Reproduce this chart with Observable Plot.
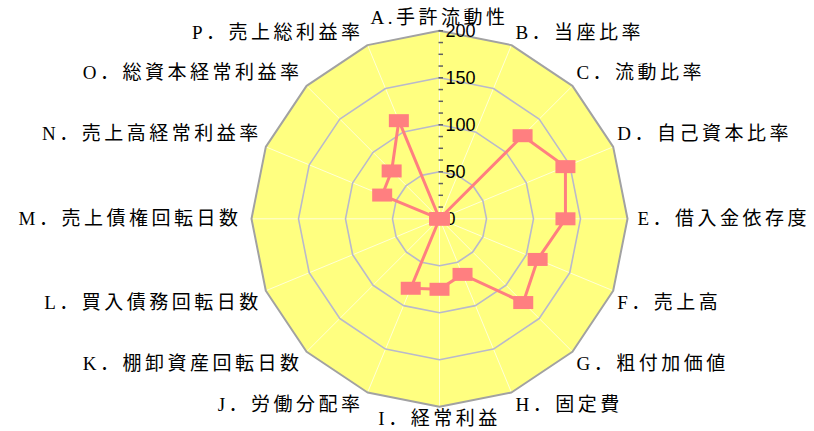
<!DOCTYPE html>
<html>
<head>
<meta charset="utf-8">
<script src="https://cdn.jsdelivr.net/npm/d3@7"></script>
<script src="https://cdn.jsdelivr.net/npm/@observablehq/plot@0.6"></script>
<style>
  html, body { margin: 0; padding: 0; background: #ffffff; }
  #chart { width: 814px; height: 431px; }
</style>
</head>
<body>
<div id="chart"></div>
<script>
// ---- data ----
const categories = [
  "A.手許流動性", "B．当座比率", "C．流動比率", "D．自己資本比率",
  "E．借入金依存度", "F．売上高", "G．粗付加価値", "H．固定費",
  "I．経常利益", "J．労働分配率", "K．棚卸資産回転日数", "L．買入債務回転日数",
  "M．売上債権回転日数", "N．売上高経常利益率", "O．総資本経常利益率", "P．売上総利益率"
];
const values = [0, 0, 125, 145, 134, 113, 126, 64, 75, 80, 0, 0, 0, 66, 72, 113];
const ringValues = [50, 100, 150, 200];
const tickLabels = [0, 50, 100, 150, 200];
const minorStep = 12.5;
const maxValue = 200;

// ---- geometry helpers ----
const W = 814, H = 431;
const cx = 439, cy = 218.3, k = 0.94; // px per unit
const n = categories.length;
const ang = i => (i * 2 * Math.PI) / n;
const px = u => u / k; // pixels -> value units

const outer = categories.map((c, i) => ({x: maxValue * Math.sin(ang(i)), y: maxValue * Math.cos(ang(i))}));
const rings = ringValues.filter(v => v < maxValue).flatMap(v =>
  categories.map((c, i) => ({ring: v, x: v * Math.sin(ang(i)), y: v * Math.cos(ang(i))})));
const spokes = categories.map((c, i) => ({x2: maxValue * Math.sin(ang(i)), y2: maxValue * Math.cos(ang(i))}));
const series = values.map((v, i) => ({cat: categories[i], v, x: v * Math.sin(ang(i)), y: v * Math.cos(ang(i))}));
const minorTicks = d3.range(0, maxValue + 0.001, minorStep);

const labels = categories.map((c, i) => {
  const s = Math.sin(ang(i)), co = Math.cos(ang(i));
  const side = Math.abs(s) < 0.01 ? 0 : Math.sign(s);
  const dxp = side === 0 ? 0 : side * (Math.abs(s) > 0.99 ? 10 : 4);
  const dyp = Math.abs(co) < 0.01 ? 0 : Math.sign(co) * 12.5;
  return {text: c, side, x: maxValue * s + px(dxp), y: maxValue * co + px(dyp)};
});

const square = {
  draw(context) {
    context.moveTo(-10, -6.5);
    context.lineTo(10, -6.5);
    context.lineTo(10, 6.5);
    context.lineTo(-10, 6.5);
    context.closePath();
  }
};

const labelFont = "'Liberation Serif', 'Noto Sans CJK JP', serif";

const chart = Plot.plot({
  width: W,
  height: H,
  margin: 0,
  x: {domain: [-cx / k, (W - cx) / k], axis: null},
  y: {domain: [-(H - cy) / k, cy / k], axis: null},
  style: {background: "#ffffff", overflow: "visible"},
  marks: [
    Plot.line(outer, {x: "x", y: "y", curve: "linear-closed", fill: "#ffff80", stroke: "none"}),
    Plot.link(spokes, {x1: 0, y1: 0, x2: "x2", y2: "y2", stroke: "#ffffd8", strokeWidth: 1}),
    Plot.line(rings, {x: "x", y: "y", z: "ring", curve: "linear-closed", stroke: "#b9b9cb", strokeWidth: 1.6}),
    Plot.line(outer, {x: "x", y: "y", curve: "linear-closed", stroke: "#a2a2a2", strokeWidth: 2}),
    Plot.link(minorTicks, {x1: px(-1), x2: px(3.5), y1: d => d, y2: d => d, stroke: "#606060", strokeWidth: 1.5}),
    Plot.text(tickLabels, {x: 0, y: d => d, text: d => String(d), dx: 6, textAnchor: "start",
      fontFamily: "'Liberation Sans', Arial, sans-serif", fontSize: 18, fill: "#000"}),
    Plot.line(series, {x: "x", y: "y", curve: "linear-closed", stroke: "#ff7f80", strokeWidth: 3}),
    Plot.dot(series, {x: "x", y: "y", symbol: square, r: 5, fill: "#ff7f80", stroke: "none"}),
    Plot.text(labels.filter(d => d.side === 1), {x: "x", y: "y", text: "text", textAnchor: "start",
      fontFamily: labelFont, fontSize: 19, fill: "#000"}),
    Plot.text(labels.filter(d => d.side === -1), {x: "x", y: "y", text: "text", textAnchor: "end",
      fontFamily: labelFont, fontSize: 19, fill: "#000"}),
    Plot.text(labels.filter(d => d.side === 0), {x: "x", y: "y", text: "text", textAnchor: "middle",
      fontFamily: labelFont, fontSize: 19, fill: "#000"})
  ]
});

d3.select(chart).selectAll('g[font-family*="Serif"]').attr("letter-spacing", "3.5px");
document.getElementById("chart").appendChild(chart);
</script>
</body>
</html>
